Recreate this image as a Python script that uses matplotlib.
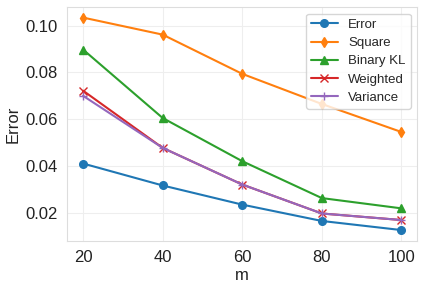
import matplotlib
matplotlib.use("Agg")
import matplotlib.pyplot as plt
import seaborn as sns

sns.set_style("whitegrid")
plt.rcParams['font.family'] = ['Liberation Sans', 'DejaVu Sans']

m = [20, 40, 60, 80, 100]
error = [0.041, 0.0316, 0.0234, 0.0164, 0.0125]
square = [0.1035, 0.0962, 0.0794, 0.0665, 0.0545]
binary_kl = [0.0898, 0.0605, 0.0420, 0.0262, 0.0218]
weighted = [0.0722, 0.0477, 0.0320, 0.0196, 0.0168]
variance = [0.0700, 0.0477, 0.0320, 0.0196, 0.0168]

series = [("Error", error, "o"), ("Square", square, "d"), ("Binary KL", binary_kl, "^"),
          ("Weighted", weighted, "x"), ("Variance", variance, "+")]
colors = ["#1f77b4", "#ff7f0e", "#2ca02c", "#d62728", "#9467bd"]

fig, ax = plt.subplots(figsize=(4.25, 2.9), dpi=100)
for (name, vals, mk), c in zip(series, colors):
    ax.plot(m, vals, marker=mk, color=c, label=name, markersize=5.5, linewidth=1.5)

ax.set_xticks(m)
ax.set_yticks([0.02, 0.04, 0.06, 0.08, 0.10])
ax.tick_params(labelsize=12, colors="#222222")
ax.grid(color="#eeeeee", linewidth=0.8)
for s in ax.spines.values():
    s.set_color("#dddddd")
ax.set_xlabel("m", fontsize=12, color="#222222", labelpad=2)
ax.set_ylabel("Error", fontsize=12, color="#222222", labelpad=3)
ax.legend(fontsize=9.5, loc="upper right", handlelength=2.0, borderpad=0.4, labelspacing=0.45)
fig.subplots_adjust(left=0.158, right=0.982, top=0.976, bottom=0.17)
fig.savefig("out.png", dpi=100)
